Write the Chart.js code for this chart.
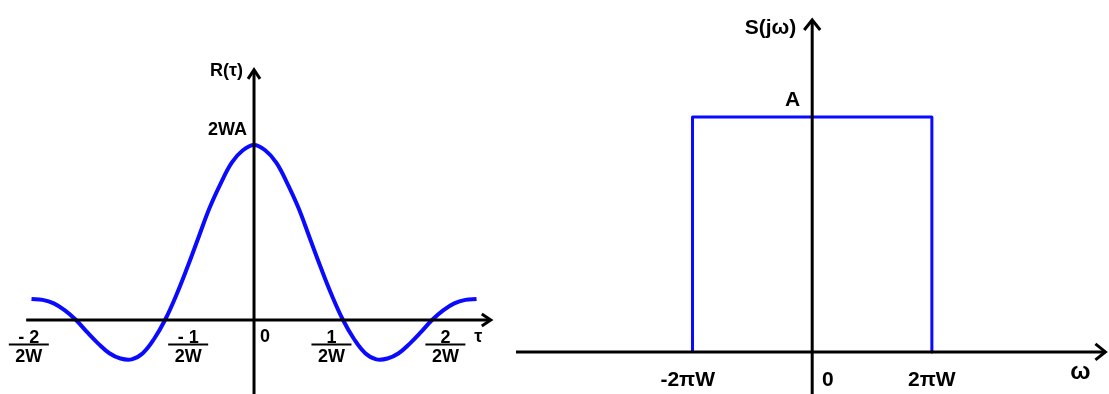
<!DOCTYPE html>
<html>
<head>
<meta charset="utf-8">
<script src="https://cdn.jsdelivr.net/npm/chart.js@4"></script>
<style>
    body { margin: 0; background: #fff; }
    #leftBox { position: absolute; left: 0; top: 0; width: 510px; height: 394px; }
    #rightBox { position: absolute; left: 510px; top: 0; width: 599px; height: 394px; }
</style>
</head>
<body>
<div id="leftBox"><canvas id="corrChart"></canvas></div>
<div id="rightBox"><canvas id="specChart"></canvas></div>
<script>
// R(tau), tau in units of 1/2W, R in units of 2WA
const tau = [-2.5, -2.375, -2.25, -2.125, -2, -1.875, -1.75, -1.625, -1.5, -1.375, -1.25, -1.125, -1,
    -0.875, -0.75, -0.625, -0.5, -0.375, -0.25, -0.125, 0, 0.125, 0.25, 0.375, 0.5, 0.625, 0.75, 0.875,
    1, 1.125, 1.25, 1.375, 1.5, 1.625, 1.75, 1.875, 2, 2.125, 2.25, 2.375, 2.5];
const rTau = [0.12, 0.115, 0.095, 0.055, 0, -0.07, -0.135, -0.19, -0.22, -0.225, -0.19, -0.11, 0,
    0.14, 0.30, 0.47, 0.64, 0.78, 0.90, 0.97, 1, 0.97, 0.90, 0.78, 0.64, 0.47, 0.30, 0.14,
    0, -0.11, -0.19, -0.225, -0.22, -0.19, -0.135, -0.07, 0, 0.055, 0.095, 0.115, 0.12];
const tauTickPos = [-2.53, -0.74, 0.87, 2.15];
const tauTickNum = ['- 2', '- 1', '1', '2'];
const tauTickDen = ['2W', '2W', '2W', '2W'];

// S(jw), w in units of 2piW, S in units of A
const omega = [-1, -1, 1, 1];
const sOmega = [0, 1, 1, 0];
const omegaTickPos = [-1.04, 0.13, 1];
const omegaTickLabels = ['-2πW', '0', '2πW'];

const FONT = '"Liberation Sans", Arial, sans-serif';
const BLUE = '#0a0aff';

function arrowLine(ctx, x1, y1, x2, y2, head, spread) {
    const ang = Math.atan2(y2 - y1, x2 - x1);
    const c = Math.cos(ang), s = Math.sin(ang);
    ctx.beginPath();
    ctx.moveTo(x1, y1);
    ctx.lineTo(x2 - c * 1.5, y2 - s * 1.5);
    ctx.stroke();
    ctx.beginPath();
    ctx.moveTo(x2 - head * c + spread * s, y2 - head * s - spread * c);
    ctx.lineTo(x2, y2);
    ctx.lineTo(x2 - head * c - spread * s, y2 - head * s + spread * c);
    ctx.stroke();
}

function label(ctx, text, x, y, size, align) {
    ctx.font = 'bold ' + size + 'px ' + FONT;
    ctx.textAlign = align || 'center';
    ctx.textBaseline = 'middle';
    ctx.fillStyle = '#000';
    ctx.fillText(text, x, y);
}

// axes, arrows and labels for the left chart
const corrAxes = {
    id: 'corrAxes',
    afterDatasetsDraw(chart) {
        const ctx = chart.ctx, xs = chart.scales.x, ys = chart.scales.y;
        const ox = xs.getPixelForValue(0), oy = ys.getPixelForValue(0);
        ctx.save();
        ctx.strokeStyle = '#000';
        ctx.lineWidth = 3;
        ctx.lineJoin = 'miter';
        arrowLine(ctx, xs.getPixelForValue(-2.56), oy, xs.getPixelForValue(2.66), oy, 9, 6);
        arrowLine(ctx, ox, chart.height, ox, ys.getPixelForValue(1.43), 9, 6);

        label(ctx, 'R(τ)', ox - 11, ys.getPixelForValue(1.43) + 1, 18, 'right');
        label(ctx, '2WA', ox - 7, ys.getPixelForValue(1) - 15, 18, 'right');
        label(ctx, 'τ', xs.getPixelForValue(2.52), oy + 17, 18);
        label(ctx, '0', ox + 11, oy + 17, 18);

        tauTickPos.forEach(function (p, i) {
            const cx = xs.getPixelForValue(p);
            label(ctx, tauTickNum[i], cx, oy + 18, 18);
            ctx.lineWidth = 2;
            ctx.beginPath();
            ctx.moveTo(cx - 20, oy + 24.5);
            ctx.lineTo(cx + 20, oy + 24.5);
            ctx.stroke();
            label(ctx, tauTickDen[i], cx, oy + 37, 18);
        });
        ctx.restore();
    }
};

// axes, arrows and labels for the right chart
const specAxes = {
    id: 'specAxes',
    afterDatasetsDraw(chart) {
        const ctx = chart.ctx, xs = chart.scales.x, ys = chart.scales.y;
        const ox = xs.getPixelForValue(0), oy = ys.getPixelForValue(0);
        ctx.save();
        ctx.strokeStyle = '#000';
        ctx.lineWidth = 3;
        arrowLine(ctx, xs.getPixelForValue(-2.475), oy, xs.getPixelForValue(2.45), oy, 10, 8);
        arrowLine(ctx, ox, chart.height, ox, ys.getPixelForValue(1.413), 10, 8);

        label(ctx, 'S(jω)', ox - 16, ys.getPixelForValue(1.413) + 8, 21, 'right');
        label(ctx, 'A', ox - 12, ys.getPixelForValue(1) - 17, 21, 'right');
        label(ctx, 'ω', xs.getPixelForValue(2.24), oy + 20, 24);
        omegaTickPos.forEach(function (p, i) {
            label(ctx, omegaTickLabels[i], xs.getPixelForValue(p), oy + 28, 21);
        });
        ctx.restore();
    }
};

const hiddenScale = { type: 'linear', display: false };

// Left chart: R(tau)
const corrChart = new Chart(document.getElementById('corrChart'), {
    type: 'line',
    data: {
        datasets: [{
            data: tau.map(function (t, i) { return { x: t, y: rTau[i] }; }),
            borderColor: BLUE,
            borderWidth: 4,
            tension: 0.4,
            pointRadius: 0,
            fill: false
        }]
    },
    options: {
        responsive: true,
        maintainAspectRatio: false,
        animation: false,
        layout: { padding: 0 },
        scales: {
            x: Object.assign({}, hiddenScale, { min: -2.854, max: 2.876 }),
            y: Object.assign({}, hiddenScale, { min: -0.423, max: 1.829 })
        },
        plugins: {
            legend: { display: false },
            tooltip: { enabled: false }
        }
    },
    plugins: [corrAxes]
});

// Right chart: S(jw)
const specChart = new Chart(document.getElementById('specChart'), {
    type: 'line',
    data: {
        datasets: [{
            data: omega.map(function (w, i) { return { x: w, y: sOmega[i] }; }),
            borderColor: BLUE,
            borderWidth: 3,
            borderJoinStyle: 'round',
            tension: 0,
            pointRadius: 0,
            fill: false
        }]
    },
    options: {
        responsive: true,
        maintainAspectRatio: false,
        animation: false,
        layout: { padding: 0 },
        scales: {
            x: Object.assign({}, hiddenScale, { min: -2.525, max: 2.48 }),
            y: Object.assign({}, hiddenScale, { min: -0.179, max: 1.498 })
        },
        plugins: {
            legend: { display: false },
            tooltip: { enabled: false }
        }
    },
    plugins: [specAxes]
});
</script>
</body>
</html>
